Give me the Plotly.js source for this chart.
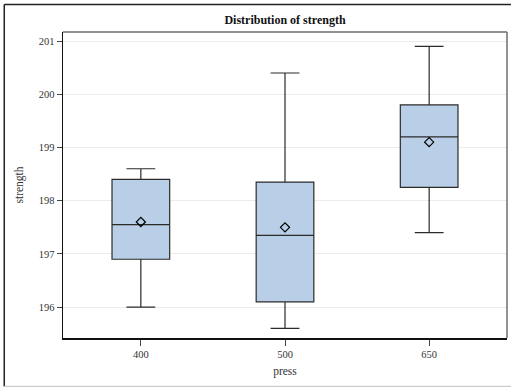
<!DOCTYPE html>
<html>
<head>
<meta charset="utf-8">
<script src="https://cdn.plot.ly/plotly-3.0.1.min.js"></script>
<style>
  html, body { margin: 0; padding: 0; background: #fff; }
  #chart { position: absolute; left: 0; top: 0; width: 511px; height: 387px; }
</style>
</head>
<body>
<div id="chart"></div>
<script>
// Data
const categories = ['400', '500', '650'];
const lowerWhisker = [196.0, 195.6, 197.4];
const q1Values     = [196.9, 196.1, 198.25];
const medianValues = [197.55, 197.35, 199.2];
const q3Values     = [198.4, 198.35, 199.8];
const upperWhisker = [198.6, 200.4, 200.9];
const meanValues   = [197.6, 197.5, 199.1];
const yTicks = [196, 197, 198, 199, 200, 201];

const fontFam = 'Liberation Serif, Times New Roman, serif';

const boxTrace = {
  type: 'box',
  x: categories,
  q1: q1Values,
  median: medianValues,
  q3: q3Values,
  lowerfence: lowerWhisker,
  upperfence: upperWhisker,
  width: 0.4,
  whiskerwidth: 0.5,
  fillcolor: '#b9cfe7',
  line: { color: '#2b2b2b', width: 1.2 },
  boxpoints: false,
  hoverinfo: 'skip',
  showlegend: false
};

const meanTrace = {
  type: 'scatter',
  mode: 'markers',
  x: categories,
  y: meanValues,
  marker: { symbol: 'diamond-open', size: 7, color: '#000', line: { width: 1.2, color: '#000' } },
  hoverinfo: 'skip',
  showlegend: false
};

const layout = {
  width: 511,
  height: 387,
  margin: { l: 63, r: 4, t: 32, b: 49 },
  paper_bgcolor: '#fff',
  plot_bgcolor: '#fff',
  font: { family: fontFam, size: 10.5, color: '#333' },
  title: {
    text: '<b>Distribution of strength</b>',
    font: { family: fontFam, size: 12, color: '#111' },
    x: 0.5, xanchor: 'center', xref: 'paper',
    y: 0.948, yanchor: 'middle'
  },
  xaxis: {
    type: 'category',
    range: [-0.54, 2.54],
    showline: true, linecolor: '#111', linewidth: 1.5,
    ticks: 'outside', ticklen: 6, tickcolor: '#444', tickwidth: 1,
    showgrid: false, zeroline: false,
    tickfont: { family: fontFam, size: 10.5, color: '#333' },
    title: { text: 'press', font: { family: fontFam, size: 11.5, color: '#333' }, standoff: 8 }
  },
  yaxis: {
    range: [195.42, 201.17],
    tickvals: yTicks,
    ticktext: yTicks.map(String),
    showline: true, linecolor: '#111', linewidth: 1.5,
    ticks: 'outside', ticklen: 5, tickcolor: '#444', tickwidth: 1,
    showgrid: true, gridcolor: '#ebebeb', gridwidth: 1,
    zeroline: false,
    tickfont: { family: fontFam, size: 10.5, color: '#333' },
    title: { text: 'strength', font: { family: fontFam, size: 11.5, color: '#333' }, standoff: 12 }
  },
  shapes: [
    // top and right plot frame (gray)
    { type: 'line', xref: 'paper', yref: 'paper', x0: 0, x1: 1, y0: 1, y1: 1, line: { color: '#6e6e6e', width: 1.5 } },
    { type: 'line', xref: 'paper', yref: 'paper', x0: 1, x1: 1, y0: 0, y1: 1, line: { color: '#6e6e6e', width: 1.5 } },
    // outer frame of the graph
    { type: 'line', xref: 'paper', yref: 'paper', x0: -0.1323, x1: -0.1323, y0: -0.1585, y1: 1.0902, line: { color: '#222', width: 1.5 } },
    { type: 'line', xref: 'paper', yref: 'paper', x0: -0.1323, x1: 1.01, y0: 1.0902, y1: 1.0902, line: { color: '#222', width: 1.5 } },
    { type: 'line', xref: 'paper', yref: 'paper', x0: -0.1323, x1: 1.01, y0: -0.1585, y1: -0.1585, line: { color: '#cccccc', width: 1.5 } }
  ]
};

Plotly.newPlot('chart', [boxTrace, meanTrace], layout, { displayModeBar: false, staticPlot: true });
</script>
</body>
</html>
